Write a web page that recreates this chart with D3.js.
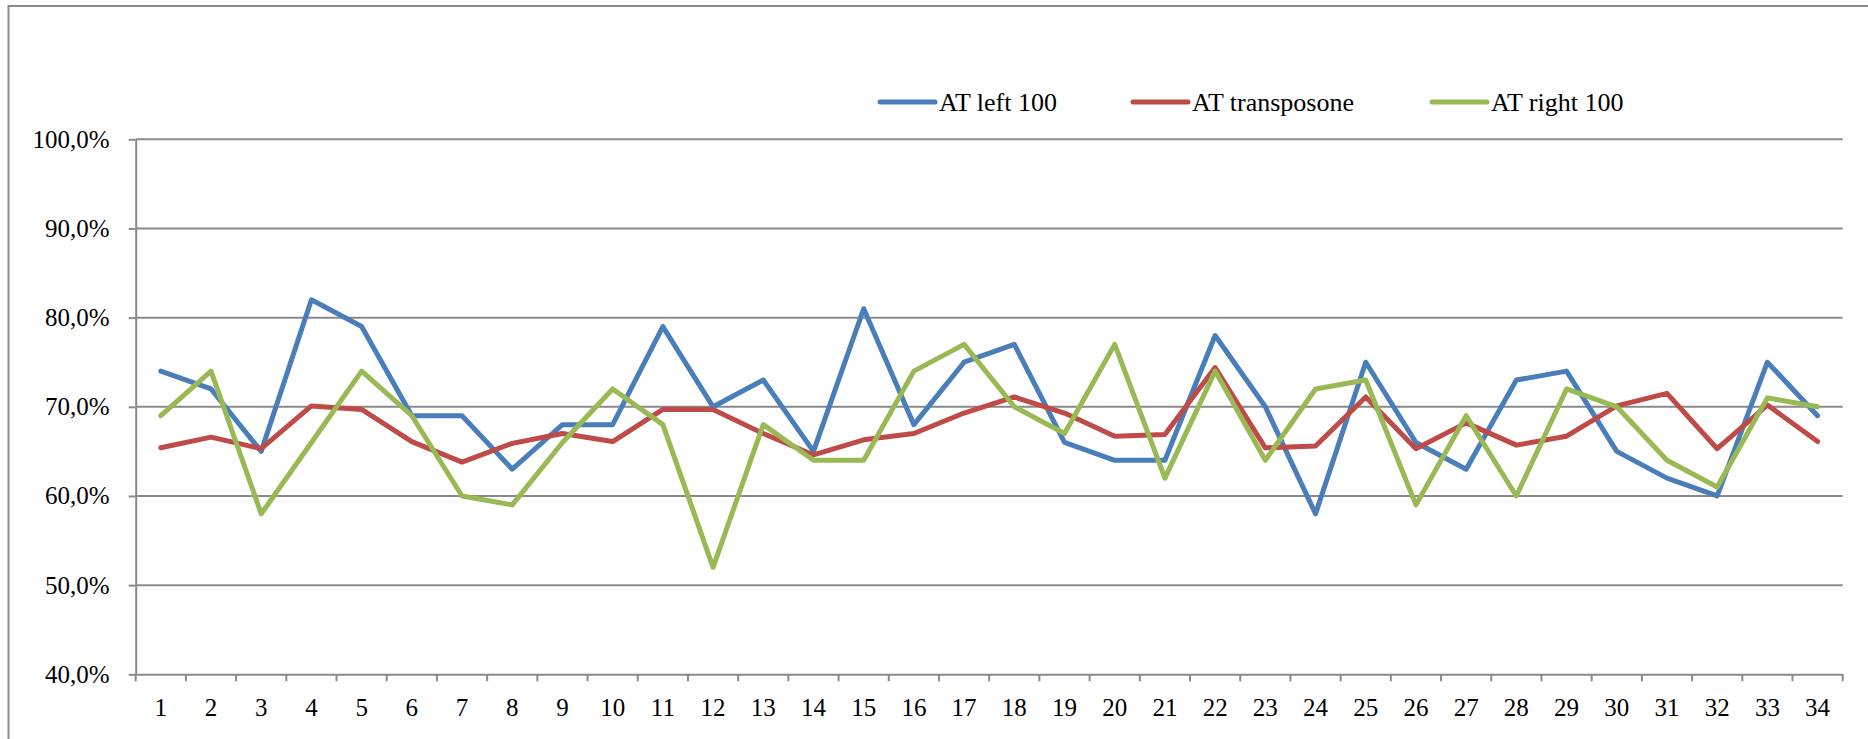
<!DOCTYPE html>
<html>
<head>
<meta charset="utf-8">
<script src="https://cdn.jsdelivr.net/npm/d3@7"></script>
<style>
  html, body { margin: 0; padding: 0; background: #fff; }
  svg { display: block; }
  text { font-family: "Liberation Serif", "Times New Roman", serif; fill: #000; }
</style>
</head>
<body>
<svg id="chart" width="1868" height="739"></svg>
<script>
// Sample positions along the x axis
const categories = d3.range(1, 35).map(String);

// Series values (fractions)
const atLeft100 = [0.74, 0.72, 0.65, 0.82, 0.79, 0.69, 0.69, 0.63, 0.68, 0.68,
                   0.79, 0.70, 0.73, 0.65, 0.81, 0.68, 0.75, 0.77, 0.66, 0.64,
                   0.64, 0.78, 0.70, 0.58, 0.75, 0.66, 0.63, 0.73, 0.74, 0.65,
                   0.62, 0.60, 0.75, 0.69];
const atTransposone = [0.654, 0.666, 0.653, 0.701, 0.697, 0.661, 0.638, 0.659, 0.670, 0.661,
                       0.697, 0.697, 0.670, 0.646, 0.663, 0.670, 0.693, 0.711, 0.693, 0.667,
                       0.669, 0.744, 0.654, 0.656, 0.711, 0.653, 0.682, 0.657, 0.667, 0.701,
                       0.715, 0.653, 0.702, 0.661];
const atRight100 = [0.69, 0.74, 0.58, 0.66, 0.74, 0.69, 0.60, 0.59, 0.66, 0.72,
                    0.68, 0.52, 0.68, 0.64, 0.64, 0.74, 0.77, 0.70, 0.67, 0.77,
                    0.62, 0.74, 0.64, 0.72, 0.73, 0.59, 0.69, 0.60, 0.72, 0.70,
                    0.64, 0.61, 0.71, 0.70];

const seriesNames = ["AT left 100", "AT transposone", "AT right 100"];
const seriesColors = ["#4a7ebb", "#be4b48", "#98b954"];
const yTicks = [0.4, 0.5, 0.6, 0.7, 0.8, 0.9, 1.0];

const series = [atLeft100, atTransposone, atRight100].map((values, i) => ({
  name: seriesNames[i], color: seriesColors[i], values
}));

const svg = d3.select("#chart");

// Outer chart frame
svg.append("rect")
  .attr("x", 8.5).attr("y", 6)
  .attr("width", 1880).attr("height", 760)
  .attr("fill", "none")
  .attr("stroke", "#8c8c8c")
  .attr("stroke-width", 2);

const plot = { left: 135.7, right: 1842.7, top: 139.3, bottom: 674.3 };

const x = d3.scaleBand().domain(categories).range([plot.left, plot.right]).padding(0);
const y = d3.scaleLinear().domain([0.4, 1.0]).range([plot.bottom, plot.top]);

const locale = d3.formatLocale({ decimal: ",", thousands: ".", grouping: [3], currency: ["", "€"] });
const pct = locale.format(".1%");

// Horizontal gridlines
svg.append("g")
  .selectAll("line")
  .data(yTicks.filter(t => t > 0.4))
  .join("line")
  .attr("x1", plot.left).attr("x2", plot.right)
  .attr("y1", d => y(d)).attr("y2", d => y(d))
  .attr("stroke", "#8a8a8a")
  .attr("stroke-width", 2);

// Y axis
const yAxis = svg.append("g")
  .attr("transform", `translate(${plot.left},0)`)
  .call(d3.axisLeft(y).tickValues(yTicks).tickFormat(pct).tickSizeInner(7).tickSizeOuter(0).tickPadding(19));
yAxis.select(".domain").attr("stroke", "#8a8a8a").attr("stroke-width", 2);
yAxis.selectAll(".tick line").attr("stroke", "#8a8a8a").attr("stroke-width", 2);
yAxis.selectAll(".tick text")
  .style("font-family", '"Liberation Serif", "Times New Roman", serif')
  .style("font-size", "25px").attr("fill", "#000");

// X axis
const xAxis = svg.append("g")
  .attr("transform", `translate(0,${plot.bottom})`)
  .call(d3.axisBottom(x).tickSize(0).tickPadding(24));
xAxis.select(".domain").attr("stroke", "#8a8a8a").attr("stroke-width", 2);
xAxis.selectAll(".tick text")
  .style("font-family", '"Liberation Serif", "Times New Roman", serif')
  .style("font-size", "25px").attr("fill", "#000");

// Tick marks at category boundaries
const boundaries = categories.map(c => x(c)).concat([x(categories[categories.length - 1]) + x.bandwidth()]);
svg.append("g")
  .selectAll("line")
  .data(boundaries)
  .join("line")
  .attr("x1", d => d).attr("x2", d => d)
  .attr("y1", plot.bottom).attr("y2", plot.bottom + 7)
  .attr("stroke", "#8a8a8a")
  .attr("stroke-width", 2);

// Series lines
const line = d3.line()
  .x((d, i) => x(categories[i]) + x.bandwidth() / 2)
  .y(d => y(d));

svg.append("g")
  .selectAll("path")
  .data(series)
  .join("path")
  .attr("d", d => line(d.values))
  .attr("fill", "none")
  .attr("stroke", d => d.color)
  .attr("stroke-width", 5)
  .attr("stroke-linejoin", "round")
  .attr("stroke-linecap", "round");

// Legend
const legendX = [880, 1133, 1432];
const legend = svg.append("g")
  .selectAll("g")
  .data(series)
  .join("g")
  .attr("transform", (d, i) => `translate(${legendX[i]},102)`);
legend.append("line")
  .attr("x1", 0).attr("x2", 55)
  .attr("y1", 0).attr("y2", 0)
  .attr("stroke", d => d.color)
  .attr("stroke-width", 5)
  .attr("stroke-linecap", "round");
legend.append("text")
  .attr("x", 59).attr("y", 9)
  .style("font-size", "26px")
  .text(d => d.name);
</script>
</body>
</html>
